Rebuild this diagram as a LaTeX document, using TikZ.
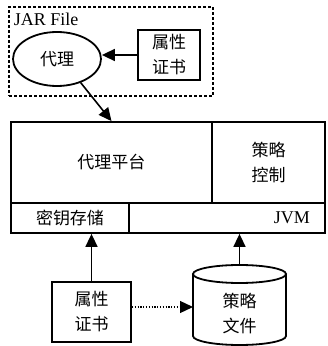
\documentclass[tikz,border=0pt]{standalone}
\usepackage{fontspec}
\setmainfont{Liberation Serif}
\newfontfamily\cjk{Noto Sans CJK SC}
\usetikzlibrary{arrows.meta,shapes.geometric}
\begin{document}
\begin{tikzpicture}[x=1pt,y=1pt,
  line width=1.8pt,
  arr/.style={-{Triangle[length=13pt,width=12pt]}, line width=1.6pt},
  zh/.style={font=\cjk\fontsize{17}{25}\selectfont, align=center},
  cell/.style={draw, rectangle, inner sep=0pt, zh}
]
\useasboundingbox (0,0) rectangle (328,346);
% JAR file container
\node[draw, rectangle, inner sep=0pt, line width=1.3pt, dash pattern=on 3pt off 2pt,
  minimum width=204pt, minimum height=89pt] (jar) at (111,294.5) {};
\node[anchor=base west, inner sep=0pt, font=\fontsize{18}{20}\selectfont] (jarlabel) at (13,320) {JAR File};
\node[draw, ellipse, inner sep=0pt, minimum width=88pt, minimum height=54pt, zh] (agent) at (57,287) {代理};
\node[cell, minimum width=62pt, minimum height=50pt] (cert1) at (169,291) {属性\\证书};
\draw[arr] (cert1.west) -- (cert1.west -| agent.east);
% platform
\node[cell, minimum width=201pt, minimum height=81pt] (plat) at (111.5,183.5) {代理平台};
\node[cell, minimum width=113pt, minimum height=81pt] (policy) at (268.5,183.5) {策略\\控制};
\node[cell, minimum width=118pt, minimum height=30pt] (keystore) at (70,128) {密钥存储};
\node[draw, rectangle, inner sep=0pt, minimum width=196pt, minimum height=30pt,
  text width=166pt, align=right, font=\fontsize{18}{20}\selectfont] (jvm) at (227,128) {JVM};
\draw[arr] (agent.-45) -- (plat.north);
% bottom
\node[cell, minimum width=79pt, minimum height=60pt] (cert2) at (91.5,34) {属性\\证书};
\node[inner sep=0pt, zh] (cyl) at (239.5,32.5) {策略\\文件};
\coordinate (cyltop) at (239.5,81);
\coordinate (cylleft) at (193,39);
\draw (193,72) -- (193,10) arc[start angle=180,end angle=360,x radius=46.5pt,y radius=9pt] -- (286,72);
\draw (239.5,72) ellipse[x radius=46.5pt, y radius=9pt];
\draw[arr] (cert2.north) -- (cert2.north |- keystore.south);
\draw[arr] (cyltop) -- (cyltop |- jvm.south);
\draw[arr, line width=1.3pt, dash pattern=on 1.3pt off 1.5pt] (cert2.east |- cylleft) -- (cylleft);
\end{tikzpicture}
\end{document}
